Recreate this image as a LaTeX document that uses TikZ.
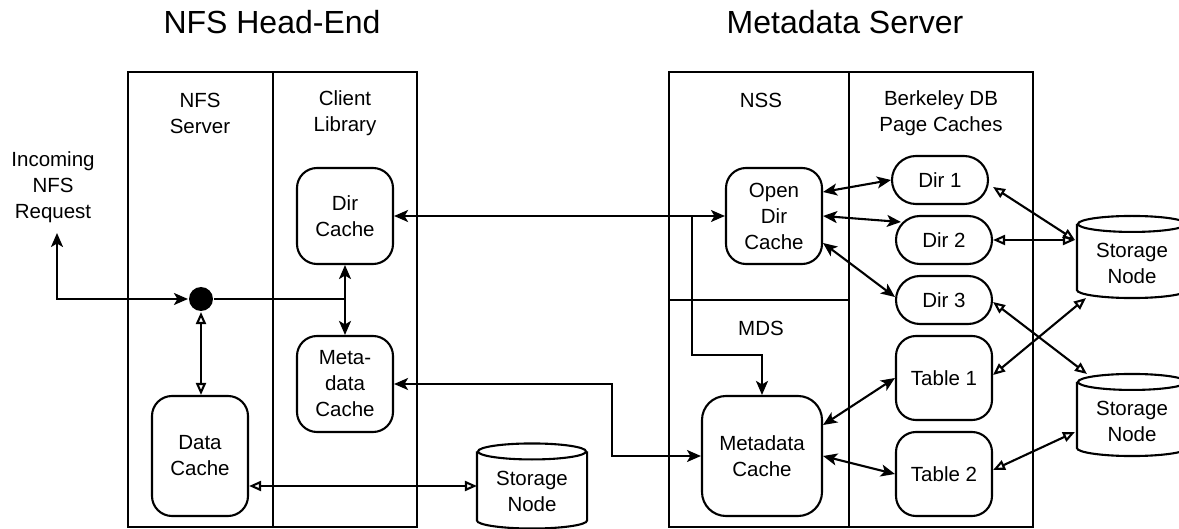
\documentclass[tikz,border=0pt]{standalone}
\usepackage{fontspec}
\setmainfont{Liberation Sans}
\usetikzlibrary{arrows.meta,calc}
\newcommand\bodyfont{\fontsize{20.5}{26}\selectfont}
\newcommand\titlefont{\fontsize{32}{38}\selectfont}
\newcommand\drawcyl[1]{%
  \draw ($(#1.north west)+(0,8)$) -- ($(#1.south west)+(0,-8)$)
    .. controls +(0,4.4) and +(-29.7,0) .. (#1.south)
    .. controls +(29.7,0) and +(0,4.4) .. ($(#1.south east)+(0,-8)$)
    -- ($(#1.north east)+(0,8)$);
  \draw ($(#1.north)+(0,8)$) ellipse [x radius=54pt, y radius=8pt];}
\begin{document}
\begin{tikzpicture}[x=1pt,y=-1pt,line width=2.1pt,
  >={Stealth[length=14pt,width=12pt,inset=3.5pt]},
  oo/.style={{Triangle[open,length=12pt,width=10pt]}-{Triangle[open,length=12pt,width=10pt]}},
  box/.style={draw,rounded corners=20pt,minimum width=96pt,align=center,inner sep=0pt,font=\bodyfont},
  pill/.style={draw,rounded corners=24pt,minimum width=96pt,minimum height=48pt,inner sep=0pt,font=\bodyfont},
  lbl/.style={align=center,inner sep=0pt,font=\bodyfont},
  ttl/.style={inner sep=0pt,font=\titlefont,anchor=base},
  cylnode/.style={minimum width=108pt,inner sep=0pt}]
\useasboundingbox (0,0) rectangle (1179,529);
\clip (0,0) rectangle (1179,529);

% titles
\node[ttl] (t_nfs) at (272,34) {NFS Head-End};
\node[ttl] (t_meta) at (845,34) {Metadata Server};

% frames
\draw (128,72) rectangle (417,527);
\draw (273,72) -- (273,527);
\draw (669,72) rectangle (1033,527);
\draw (849,72) -- (849,527);
\draw (669,300) -- (849,300);

% column labels
\node[lbl] (l_nfss) at (200,113) {NFS\\Server};
\node[lbl] (l_cl) at (345,113) {Client\\Library};
\node[lbl] (l_nss) at (761,100) {NSS};
\node[lbl] (l_mds) at (761,328) {MDS};
\node[lbl] (l_bdb) at (941,113) {Berkeley DB\\Page Caches};
\node[lbl] (l_inc) at (53,187) {Incoming\\NFS\\Request};
\coordinate (incarrow) at (57,233);

% nodes
\node[box,minimum height=96pt] (dirc) at (345,216) {Dir\\Cache};
\node[box,minimum height=96pt] (mdc) at (345,384) {Meta-\\data\\Cache};
\node[box,minimum height=120pt] (datac) at (200,456) {Data\\Cache};
\node[circle,fill=black,minimum size=24pt,inner sep=0pt] (dot) at (201,299) {};
\node[box,minimum height=96pt] (odc) at (774,216) {Open\\Dir\\Cache};
\node[box,minimum height=120pt,minimum width=120pt,rounded corners=24pt] (mdsc) at (762,456) {Metadata\\Cache};
\node[pill] (dir1) at (940,180) {Dir 1};
\node[pill] (dir2) at (944,240) {Dir 2};
\node[pill] (dir3) at (944,300) {Dir 3};
\node[box,minimum height=84pt] (t1) at (944,378) {Table 1};
\node[box,minimum height=84pt] (t2) at (944,474) {Table 2};

% storage nodes
\node[cylnode,minimum height=83pt] (sn0) at (532,486) {};
\drawcyl{sn0}
\node[lbl] (sn0l) at ($(sn0)+(0,5)$) {Storage\\Node};
\node[cylnode,minimum height=80pt] (sn1) at (1132,257) {};
\drawcyl{sn1}
\node[lbl] (sn1l) at ($(sn1)+(0,6)$) {Storage\\Node};
\node[cylnode,minimum height=80pt] (sn2) at (1132,415) {};
\drawcyl{sn2}
\node[lbl] (sn2l) at ($(sn2)+(0,6)$) {Storage\\Node};

% connectors, head-end
\draw[<->] (incarrow) |- (dot.west);
\draw (dot.east) -- (dirc.south |- dot);
\draw[<->] (dirc.south) -- (mdc.north);
\draw[oo] (dot.south) -- (datac.north -| dot);
\draw[oo] (datac.east |- sn0) -- (sn0.west);

% connectors, between
\draw[<->] (dirc.east) -- (odc.west);
\coordinate (br) at ($(odc.west)+(-33,0)$);
\draw[->] (br) -- ($(br)+(0,139)$) -| (mdsc.north);
\draw[<->] (mdc.east) -- ++(218,0) |- (mdsc.west);

% connectors, metadata server
\draw[<->] ($(odc.east)+(0,-24)$) -- (dir1.west);
\draw[<->] (odc.east) -- ($(dir2.west)+(6,-18)$);
\draw[<->] ($(odc.east)+(0,27)$) -- ($(dir3.west)+(0,-3)$);
\draw[<->] ($(mdsc.east)+(0,-31)$) -- (t1.west);
\draw[<->] (mdsc.east) -- (t2.west);

% connectors to storage
\draw[oo] ($(dir1.east)+(4,7)$) -- ($(sn1.west)+(-2,-17)$);
\draw[oo] (dir2.east) -- ($(sn1.west)+(-2,-17)$);
\draw[oo] ($(dir3.east)+(0,2)$) -- ($(sn2.north west)+(10,0)$);
\draw[oo] ($(t1.east)+(0,-3)$) -- ($(sn1.south west)+(9,0)$);
\draw[oo] ($(t2.east)+(0,-4)$) -- ($(sn2.west)+(-2,17)$);
\end{tikzpicture}
\end{document}
